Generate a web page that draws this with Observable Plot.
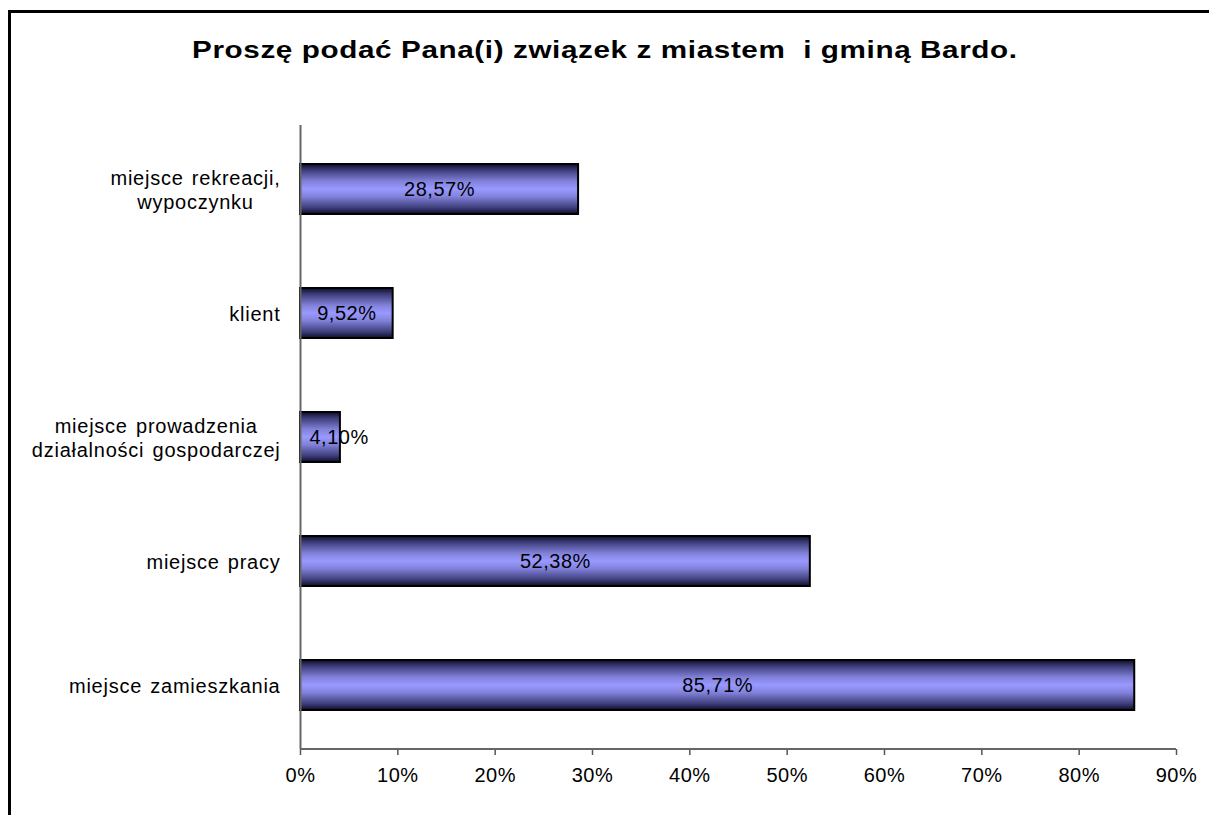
<!DOCTYPE html>
<html>
<head>
<meta charset="utf-8">
<script src="https://cdn.jsdelivr.net/npm/d3@7"></script>
<script src="https://cdn.jsdelivr.net/npm/@observablehq/plot@0.6"></script>
<style>
  html, body { margin: 0; padding: 0; background: #fff; overflow: hidden; }
  #wrap { position: relative; width: 1209px; height: 815px; }
  #frame { position: absolute; left: 8px; top: 10px; width: 1300px; height: 900px;
           border-top: 3px solid #000; border-left: 3px solid #000; z-index: 2; pointer-events: none; }
  #title { position: absolute; left: 0; top: 36px; width: 1209px; text-align: center;
           font-family: "Liberation Sans", Arial, sans-serif; font-weight: bold; font-size: 24px;
           letter-spacing: 0.5px; color: #000; z-index: 3; white-space: pre;
           transform: scaleX(1.235); transform-origin: 603px 0; }
  #chart { position: absolute; left: 0; top: 0; }
</style>
</head>
<body>
<div id="wrap">
  <div id="frame"></div>
  <div id="title"></div>
  <div id="chart"></div>
</div>
<script>
const titleText = "Proszę podać Pana(i) związek z miastem  i gminą Bardo.";
const categories = [
  "miejsce rekreacji,\nwypoczynku",
  "klient",
  "miejsce prowadzenia\ndziałalności gospodarczej",
  "miejsce pracy",
  "miejsce zamieszkania"
];
const values = [28.57, 9.52, 4.10, 52.38, 85.71];
const valueLabels = ["28,57%", "9,52%", "4,10%", "52,38%", "85,71%"];
const xTicks = [0, 10, 20, 30, 40, 50, 60, 70, 80, 90];

document.getElementById("title").textContent = titleText;

const data = categories.map((c, i) => ({cat: c, value: values[i], label: valueLabels[i]}));

const W = 1209, H = 815, mL = 300, mT = 125, mB = 66, mR = 33;

const chart = Plot.plot({
  width: W, height: H,
  marginLeft: mL, marginTop: mT, marginBottom: mB, marginRight: mR,
  style: { fontFamily: "'Liberation Sans', Arial, sans-serif", fontSize: "20px", background: "transparent", color: "#000" },
  x: { domain: [0, 90], ticks: xTicks, tickFormat: d => d + "%", label: null },
  y: { domain: categories, paddingInner: 0.6, paddingOuter: 0.3, label: null },
  marks: [
    Plot.barX(data, { x: "value", y: "cat", fill: "url(#barGrad)", stroke: "#000", strokeWidth: 2 }),
    Plot.text(data, {
      x: d => d.value < 6 ? 0 : d.value / 2, y: "cat", text: "label",
      textAnchor: "middle", fill: "#000", fontSize: 20
    }),
    Plot.axisX({ ticks: xTicks, tickFormat: d => d + "%", tickSize: 6, tickPadding: 12, stroke: "#555", strokeWidth: 1.5, fontSize: 20, label: null }),
    Plot.axisY({ tickSize: 0, tickPadding: 20, fontSize: 20, lineHeight: 1.2, label: null }),
    Plot.ruleX([0], { stroke: "#666", strokeWidth: 2 })
  ]
});

document.getElementById("chart").appendChild(chart);
const svg = d3.select(chart);

// gradient
const grad = svg.insert("defs", ":first-child").append("linearGradient")
  .attr("id", "barGrad").attr("x1", 0).attr("y1", 0).attr("x2", 0).attr("y2", 1);
[[0, "#0c0c26"], [0.12, "#3c3c78"], [0.35, "#8282dc"], [0.5, "#9999ff"], [0.65, "#8282dc"], [0.88, "#3c3c78"], [1, "#0c0c26"]]
  .forEach(([o, c]) => grad.append("stop").attr("offset", o).attr("stop-color", c));

// bottom axis line
const xs = chart.scale("x");
svg.append("line")
  .attr("x1", xs.range[0]).attr("x2", xs.range[1])
  .attr("y1", H - mB).attr("y2", H - mB)
  .attr("stroke", "#666").attr("stroke-width", 2);

// spacing on texts
svg.selectAll("text").style("letter-spacing", "0.5px");
svg.selectAll("g[aria-label='y-axis tick label'] text").style("letter-spacing", "0.75px").style("word-spacing", "2px");

// value label for small bars: start-anchored inside
svg.selectAll("g[aria-label='text'] text").each(function(d) {
  if (values[d] !== undefined && values[d] < 6) {
    d3.select(this).attr("text-anchor", "start").attr("dx", 9);
  }
});

// center multi-line y labels within their block
svg.selectAll("g[aria-label='y-axis tick label'] text").each(function() {
  const tspans = d3.select(this).selectAll("tspan");
  if (tspans.size() > 1) {
    let maxW = 0;
    tspans.each(function() { maxW = Math.max(maxW, this.getComputedTextLength()); });
    d3.select(this).attr("text-anchor", "middle");
    tspans.attr("x", -maxW / 2);
  }
});
</script>
</body>
</html>
